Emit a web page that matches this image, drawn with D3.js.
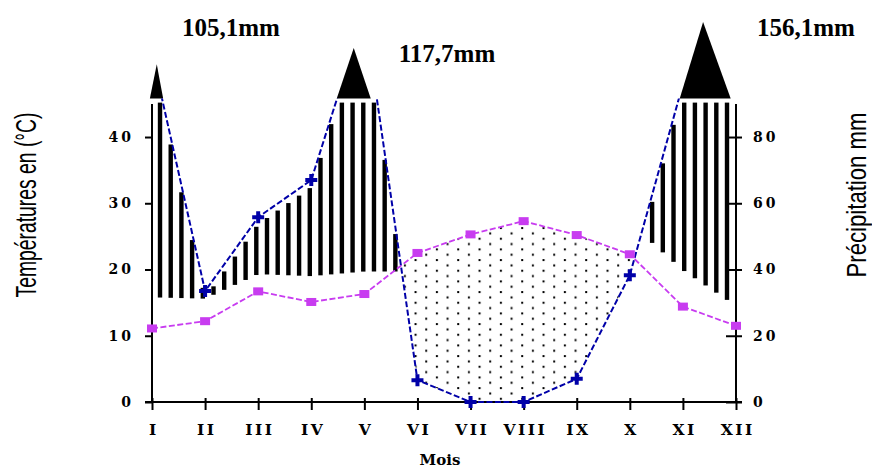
<!DOCTYPE html>
<html><head><meta charset="utf-8">
<script src="https://cdn.jsdelivr.net/npm/d3@7"></script>
<style>html,body{margin:0;padding:0;background:#fff;} svg{display:block}</style>
</head><body>
<svg id="c" width="872" height="468"></svg>
<script>
// ---------- data ----------
const months = ["I","II","III","IV","V","VI","VII","VIII","IX","X","XI","XII"];
const temperature = [11.1, 12.2, 16.7, 15.1, 16.3, 22.5, 25.3, 27.3, 25.2, 22.3, 14.4, 11.5];
const precipitation = [105.1, 33.5, 55.8, 67.0, 117.7, 6.6, 0, 0, 7.0, 38.3, 96.0, 156.1];
const hatchLow = [15.8, 15.6, 19.3, 19.0, 19.7, null, null, null, null, 27.0, 19.9, 14.5];
const tempTicks = [0, 10, 20, 30, 40];
const precTicks = [0, 20, 40, 60, 80];
const peakLabels = ["105,1mm", "117,7mm", "156,1mm"];
const peakApex = [0.09, 3.80, 10.38];
const peakLeft = [-0.04, 3.48, 9.94];
const peakRight = [0.21, 4.12, 10.90];
const peakTop = [102.0, 106.9, 114.7];
const clipValue = 91.6;      // mm, top of the drawing area (base of the peaks)
const hatchStart = 0.151, hatchStep = 0.2015;

// ---------- setup ----------
const svg = d3.select("#c");
const x = d3.scaleLinear().domain([0, 11]).range([152, 736]);
const yT = d3.scaleLinear().domain([0, 45]).range([402, 103.9]);
const yP = d3.scaleLinear().domain([0, 90]).range([402, 103.9]);
const blue = "#0000a8", purple = "#c83cf0";
const clipY = yP(clipValue);

const defs = svg.append("defs");
defs.append("clipPath").attr("id", "plotclip")
  .append("rect").attr("x", 0).attr("y", clipY).attr("width", 872).attr("height", 468 - clipY);
const pat = defs.append("pattern").attr("id", "dots").attr("patternUnits", "userSpaceOnUse")
  .attr("width", 21.33).attr("height", 10.67).attr("x", 8.3).attr("y", 2);
pat.append("rect").attr("x", 1).attr("y", 1).attr("width", 2).attr("height", 2).attr("fill", "#000");
pat.append("rect").attr("x", 11.67).attr("y", 6.33).attr("width", 2).attr("height", 2).attr("fill", "#000");

function interp(arr, m) {
  const i = Math.max(0, Math.min(10, Math.floor(m)));
  const t = m - i;
  return arr[i] + (arr[i + 1] - arr[i]) * t;
}
function lowAt(m) {
  const i = Math.floor(m);
  if (i >= 11) return hatchLow[11];
  if (hatchLow[i] == null) return null;
  if (hatchLow[i + 1] == null) return hatchLow[i];
  return hatchLow[i] + (hatchLow[i + 1] - hatchLow[i]) * (m - i);
}

// ---------- dry period (dotted) ----------
const f = months.map((_, i) => 2 * temperature[i] - precipitation[i]);
const dryPoly = [];
for (let i = 0; i < 11; i++) {
  if (f[i] < 0 && f[i + 1] >= 0) {
    const m = i + f[i] / (f[i] - f[i + 1]);
    dryPoly.push([m, interp(temperature, m)]);
    let j = i + 1;
    while (j < 12 && f[j] >= 0) { dryPoly.push([j, temperature[j]]); j++; }
    const m2 = (j - 1) + f[j - 1] / (f[j - 1] - f[j]);
    dryPoly.push([m2, interp(temperature, m2)]);
    const back = [[m2, interp(precipitation, m2) / 2]];
    for (let k = j - 1; k >= i + 1; k--) back.push([k, precipitation[k] / 2]);
    back.push([m, interp(precipitation, m) / 2]);
    dryPoly.push(...back);
    break;
  }
}
svg.append("path")
  .attr("d", "M" + dryPoly.map(p => x(p[0]) + "," + yT(p[1])).join("L") + "Z")
  .attr("fill", "url(#dots)").attr("stroke", "none");

// ---------- humid period (hatch) ----------
const hatch = svg.append("g").attr("clip-path", "url(#plotclip)");
for (let m = hatchStart; m <= 11.001; m += hatchStep) {
  const lo = lowAt(m);
  if (lo == null) continue;
  const py = yP(interp(precipitation, m));
  const top = py < clipY ? clipY + 4 : py + 7;
  const bot = yT(lo);
  if (bot - top < 2) continue;
  hatch.append("rect").attr("x", x(m) - 2.2).attr("y", top)
    .attr("width", 4.4).attr("height", bot - top).attr("fill", "#000");
}

// ---------- peaks above the clip ----------
peakApex.forEach((a, i) => {
  svg.append("path")
    .attr("d", `M${x(peakLeft[i])},${clipY}L${x(a)},${yP(peakTop[i])}L${x(peakRight[i])},${clipY}Z`)
    .attr("fill", "#000");
});

// ---------- axes ----------
const axStyle = g => {
  g.select(".domain").remove();
  g.selectAll("line").attr("stroke", "#000").attr("stroke-width", 2);
  g.selectAll("text").attr("font-family", "DejaVu Serif").attr("font-weight", "bold")
    .attr("fill", "#000");
};
svg.append("g").attr("transform", "translate(152,0)")
  .call(d3.axisLeft(yT).tickValues(tempTicks).tickSize(7).tickPadding(11).tickSizeOuter(0))
  .call(axStyle)
  .call(g => g.selectAll("text").attr("font-size", 14).attr("letter-spacing", 3));
svg.append("g").attr("transform", "translate(736,0)")
  .call(d3.axisRight(yP).tickValues(precTicks).tickSize(6).tickPadding(11).tickSizeOuter(0))
  .call(axStyle)
  .call(g => g.selectAll("line").attr("x1", -10))
  .call(g => g.selectAll("text").attr("font-size", 14).attr("letter-spacing", 3));
svg.append("g").attr("transform", "translate(0,402)")
  .call(d3.axisBottom(x).tickValues(d3.range(12)).tickFormat(i => months[i]).tickSize(8).tickPadding(14).tickSizeOuter(0))
  .call(axStyle)
  .call(g => g.selectAll("line").attr("y1", -4))
  .call(g => g.selectAll("text").attr("font-size", 15.5).attr("letter-spacing", 2.5).attr("dx", 1.25));

// axis lines
svg.append("line").attr("x1", x(0)).attr("x2", x(0)).attr("y1", yT(45)).attr("y2", yT(0))
  .attr("stroke", "#000").attr("stroke-width", 2);
svg.append("line").attr("x1", x(11)).attr("x2", x(11)).attr("y1", yT(45)).attr("y2", yT(0))
  .attr("stroke", "#000").attr("stroke-width", 2);
svg.append("line").attr("x1", x(0) - 7).attr("x2", x(11) + 6).attr("y1", yT(0)).attr("y2", yT(0))
  .attr("stroke", "#000").attr("stroke-width", 2);

// ---------- lines ----------
const plot = svg.append("g").attr("clip-path", "url(#plotclip)");
plot.append("path").datum(temperature)
  .attr("d", d3.line().x((d, i) => x(i)).y(d => yT(d)))
  .attr("fill", "none").attr("stroke", purple).attr("stroke-width", 1.8).attr("stroke-dasharray", "6,2.5");
plot.append("path").datum(precipitation)
  .attr("d", d3.line().x((d, i) => x(i)).y(d => yP(d)))
  .attr("fill", "none").attr("stroke", blue).attr("stroke-width", 2).attr("stroke-dasharray", "6,2.5");

plot.selectAll("rect.tm").data(temperature).join("rect").attr("class", "tm")
  .attr("x", (d, i) => x(i) - 5).attr("y", d => yT(d) - 4).attr("width", 10).attr("height", 8)
  .attr("fill", purple);
plot.selectAll("path.pm").data(precipitation.map((d, i) => [i, d]).filter(d => d[1] <= 90)).join("path")
  .attr("class", "pm")
  .attr("transform", d => `translate(${x(d[0])},${yP(d[1])})`)
  .attr("d", d3.symbol().type(d3.symbolCross).size(80))
  .attr("fill", blue);

// ---------- texts ----------
const peakLabelX = [231, 447, 806], peakLabelY = [36, 62, 36];
peakLabels.forEach((t, i) => {
  svg.append("text").attr("x", peakLabelX[i]).attr("y", peakLabelY[i])
    .attr("text-anchor", "middle").attr("font-family", "Liberation Serif")
    .attr("font-weight", "bold").attr("font-size", 25).attr("fill", "#000").text(t);
});
svg.append("text").attr("transform", "translate(36,205) rotate(-90)")
  .attr("text-anchor", "middle").attr("font-family", "Liberation Sans")
  .attr("font-size", 29).attr("textLength", 185).attr("lengthAdjust", "spacingAndGlyphs")
  .attr("fill", "#000").text("Températures en (°C)");
svg.append("text").attr("transform", "translate(866,195) rotate(-90)")
  .attr("text-anchor", "middle").attr("font-family", "Liberation Sans")
  .attr("font-size", 27).attr("textLength", 165).attr("lengthAdjust", "spacingAndGlyphs")
  .attr("fill", "#000").text("Précipitation mm");
svg.append("text").attr("x", 440).attr("y", 465).attr("text-anchor", "middle")
  .attr("font-family", "DejaVu Serif").attr("font-weight", "bold").attr("font-size", 15)
  .attr("fill", "#000").text("Mois");
</script>
</body></html>
